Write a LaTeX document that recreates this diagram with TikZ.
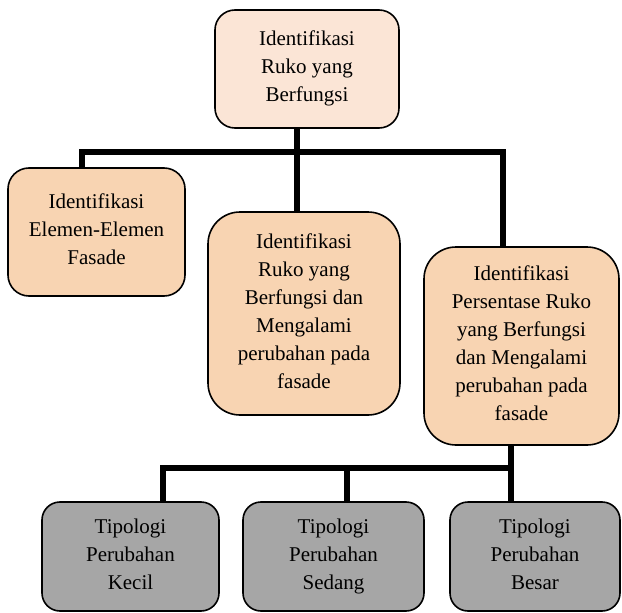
\documentclass[tikz,border=0pt]{standalone}
\usepackage{fontspec}
\setmainfont{Liberation Serif}
\newfontfamily\boxfont{Liberation Serif}
\definecolor{palepeach}{RGB}{251,229,214}
\definecolor{peach}{RGB}{248,212,178}
\definecolor{slate}{RGB}{166,166,166}
\tikzset{
  box/.style={draw=black, line width=1.6pt, align=center, inner sep=0pt,
    font=\boxfont\fontsize{21}{28}\selectfont,
    execute at begin node=\rule{0pt}{22.6pt},
    execute at end node=\rule[-5.4pt]{0pt}{5.4pt}},
  link/.style={line width=6pt, black, line join=miter}
}

\begin{document}
\begin{tikzpicture}[x=1pt, y=-1pt]
\useasboundingbox (0,0) rectangle (622,613);
% Boxes
    \node[box, fill=palepeach, rounded corners=20pt, minimum width=184pt, minimum height=118pt]
      (top) at (307,69) {Identifikasi\\Ruko yang\\Berfungsi};
    \node[box, fill=peach, rounded corners=21pt, minimum width=177pt, minimum height=128pt]
      (fasade) at (96.5,232) {Identifikasi\\Elemen-Elemen\\Fasade};
    \node[box, fill=peach, rounded corners=32pt, minimum width=192pt, minimum height=203pt]
      (fungsi) at (304,313.5) {Identifikasi\\Ruko yang\\Berfungsi dan\\Mengalami\\perubahan pada\\fasade};
    \node[box, fill=peach, rounded corners=32pt, minimum width=195pt, minimum height=198pt]
      (persen) at (521.5,346) {Identifikasi\\Persentase Ruko\\yang Berfungsi\\dan Mengalami\\perubahan pada\\fasade};
    \node[box, fill=slate, rounded corners=18pt, minimum width=177pt, minimum height=109pt]
      (kecil) at (130.5,556.5) {Tipologi\\Perubahan\\Kecil};
    \node[box, fill=slate, rounded corners=18pt, minimum width=181pt, minimum height=109pt]
      (sedang) at (333.5,556.5) {Tipologi\\Perubahan\\Sedang};
    \node[box, fill=slate, rounded corners=18pt, minimum width=170pt, minimum height=109pt]
      (besar) at (535,556.5) {Tipologi\\Perubahan\\Besar};
% Bus lines
    \coordinate (busL) at (82,152);
    \coordinate (busR) at (503,152);
    \coordinate (busL2) at (163,468);
    \coordinate (busM2) at (347,468);
    \coordinate (busR2) at (511,468);
% Connectors
    \draw[link] ([xshift=-10pt]top.south) -- ([xshift=-7pt]fungsi.north);
    \draw[link] (busL |- fasade.north) -- (busL) -- (busR) -- (busR |- persen.north);
    \draw[link] (busR2 |- persen.south) -- (busR2 |- besar.north);
    \draw[link] (busL2 |- kecil.north) -- (busL2) -- (busR2);
    \draw[link] (busM2) -- (busM2 |- sedang.north);
\end{tikzpicture}
\end{document}
